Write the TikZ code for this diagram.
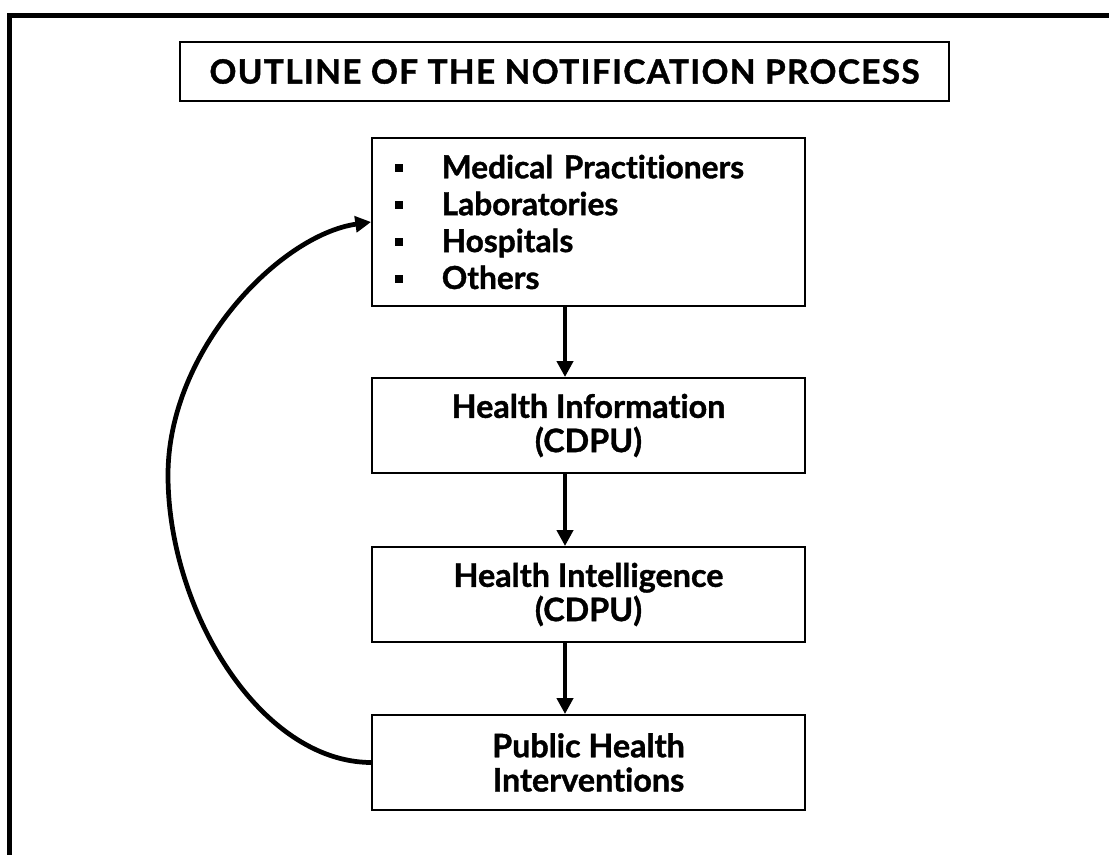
\documentclass[tikz,border=0pt]{standalone}
\usepackage{fontspec}
\setmainfont{Lato}[Ligatures=NoCommon, BoldFeatures={FakeBold=1.2}]
\usetikzlibrary{arrows.meta}

\newcommand{\sqbul}{\makebox[26.6pt][l]{\rule[3.6pt]{4.6pt}{4.6pt}}}

\tikzset{
  stage/.style={draw, line width=1.1pt, minimum width=8.66cm, minimum height=1.9cm,
    inner sep=0pt, align=center, font=\fontsize{18.4}{19.5}\selectfont\bfseries},
  flow/.style={line width=2.7pt, -{Triangle[length=9pt,width=9pt]}},
}

\begin{document}
\begin{tikzpicture}[x=0.02cm, y=-0.02cm]
    \useasboundingbox (0,0) rectangle (1109,855);
    % outer frame (cut off on the right and at the bottom)
    \draw[line width=2.8pt] (9.5,855) -- (9.5,15.5) -- (1109,15.5);

    \node[stage, minimum width=15.38cm, minimum height=1.18cm,
      font=\fontsize{19}{22}\selectfont\bfseries\addfontfeature{LetterSpace=4}] (title) at (564.5,71.5)
      {OUTLINE OF THE NOTIFICATION PROCESS};
    \node[stage, minimum height=3.36cm, text width=7.74cm, align=left,
      font=\fontsize{18}{21}\selectfont\bfseries] (sources) at (588.5,222)
      {\sqbul Medical Practitioners\\ \sqbul Laboratories\\ \sqbul Hospitals\\ \sqbul Others};
    \node[stage] (info) at (588.5,425.5) {Health Information\\(CDPU)};
    \node[stage] (intel) at (588.5,594.5) {Health Intelligence\\(CDPU)};
    \node[stage] (action) at (588.5,762.5) {Public Health\\Interventions};

    \draw[flow] ([xshift=-0.47cm]sources.south) -- ([xshift=-0.47cm]info.north);
    \draw[flow] ([xshift=-0.47cm]info.south) -- ([xshift=-0.47cm]intel.north);
    \draw[flow] ([xshift=-0.47cm]intel.south) -- ([xshift=-0.47cm]action.north);
    % feedback loop
    \draw[flow] (action.west) .. controls (260,762) and (168,610) .. (168,475)
      .. controls (168,350) and (280,235) .. (sources.west);
\end{tikzpicture}
\end{document}
